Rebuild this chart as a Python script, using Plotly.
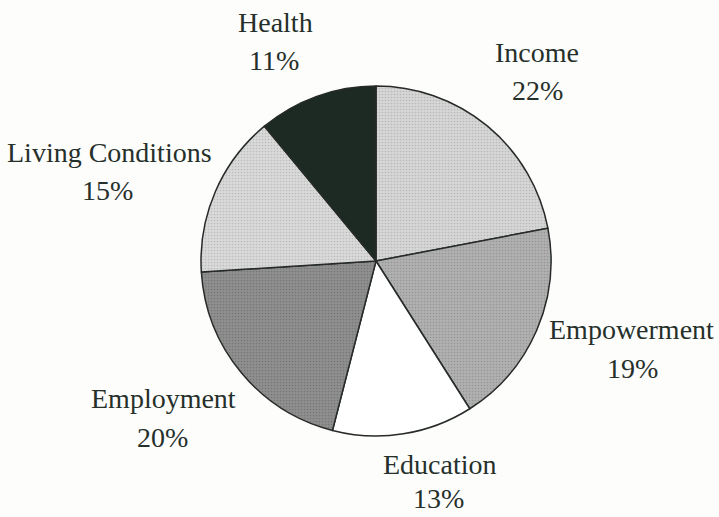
import plotly.graph_objects as go

categories = ["Income", "Empowerment", "Education", "Employment", "Living Conditions", "Health"]
values = [22, 19, 13, 20, 15, 11]
slice_colors = ["#d6d6d6", "#b0b0b0", "#ffffff", "#8f8f8f", "#d9d9d9", "#1c2a23"]
pattern_fg = ["#9a9a9a", "#7a7a7a", "#ffffff", "#5e5e5e", "#a0a0a0", "#111a15"]

# label centre positions in pixels (x, y from top) for name and percentage lines
name_pos = {
    "Income": (537, 53),
    "Empowerment": (631, 329),
    "Education": (440, 464),
    "Employment": (163, 398),
    "Living Conditions": (109, 152),
    "Health": (275, 23),
}
pct_pos = {
    "Income": (537, 90),
    "Empowerment": (632, 368),
    "Education": (438, 498),
    "Employment": (162, 437),
    "Living Conditions": (107, 191),
    "Health": (274, 60),
}

W, H = 719, 517
cx, cy, r = 376, 261, 175

fig = go.Figure(go.Pie(
    labels=categories,
    values=values,
    sort=False,
    direction="clockwise",
    rotation=0,
    textinfo="none",
    hoverinfo="label+percent",
    marker=dict(
        colors=slice_colors,
        line=dict(color="#262b28", width=1.5),
        pattern=dict(shape=[".", ".", "", ".", ".", ""], fgcolor=pattern_fg,
                     bgcolor=slice_colors, size=3, solidity=0.25, fillmode="overlay"),
    ),
    domain=dict(x=[(cx - r) / W, (cx + r) / W], y=[1 - (cy + r) / H, 1 - (cy - r) / H]),
    showlegend=False,
))

font = dict(family="Liberation Serif, Times New Roman, serif", size=28, color="#26302b")
anns = []
for c, v in zip(categories, values):
    x, y = name_pos[c]
    anns.append(dict(x=x / W, y=1 - y / H, xref="paper", yref="paper", text=c,
                     showarrow=False, xanchor="center", yanchor="middle", font=font))
    x, y = pct_pos[c]
    anns.append(dict(x=x / W, y=1 - y / H, xref="paper", yref="paper", text=f"{v}%",
                     showarrow=False, xanchor="center", yanchor="middle", font=font))

fig.update_layout(
    width=W, height=H,
    margin=dict(l=0, r=0, t=0, b=0),
    paper_bgcolor="#fdfdfb",
    plot_bgcolor="#fdfdfb",
    annotations=anns,
)

fig.write_html("out.html")
